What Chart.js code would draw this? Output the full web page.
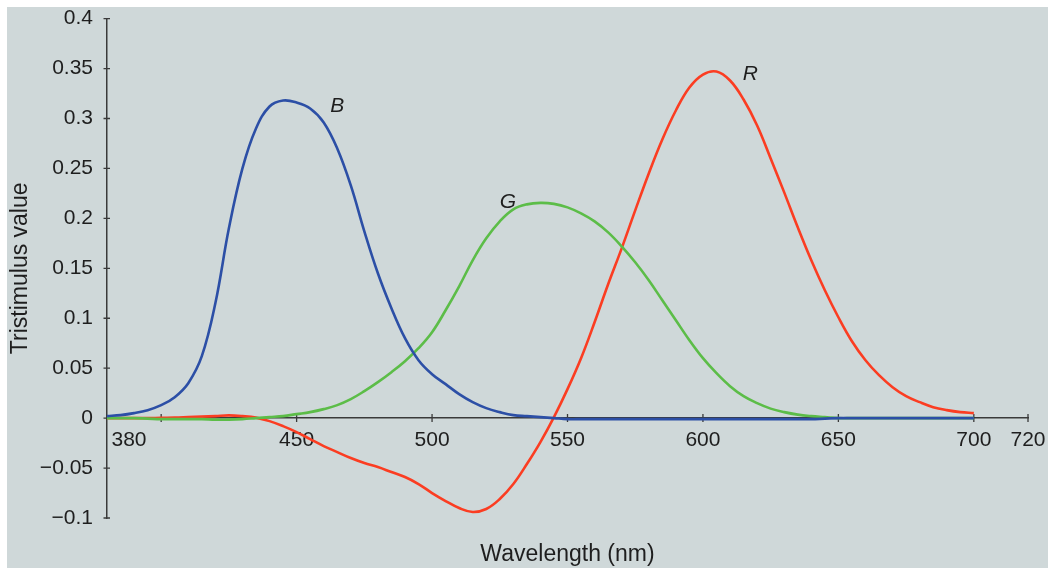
<!DOCTYPE html>
<html>
<head>
<meta charset="utf-8">
<script src="https://cdn.jsdelivr.net/npm/chart.js@4.4.1/dist/chart.umd.min.js"></script>
<style>
  html, body { margin: 0; padding: 0; background: #ffffff; }
  #wrap { width: 1048px; height: 568px; position: relative; }
</style>
</head>
<body>
<div id="wrap"><canvas id="cmfChart"></canvas></div>
<script>
// ==========================================
// DADOS
// ==========================================

// comprimento de onda (nm), passo de 5 nm
const wavelengths = [
  380, 385, 390, 395, 400, 405, 410, 415, 420, 425, 430, 435, 440, 445, 450, 455,
  460, 465, 470, 475, 480, 485, 490, 495, 500, 505, 510, 515, 520, 525, 530, 535,
  540, 545, 550, 555, 560, 565, 570, 575, 580, 585, 590, 595, 600, 605, 610, 615,
  620, 625, 630, 635, 640, 645, 650, 655, 660, 665, 670, 675, 680, 685, 690, 695, 700
];

const blueValues = [
  0.002, 0.003, 0.005, 0.008, 0.013, 0.021, 0.035, 0.062, 0.115, 0.190, 0.250, 0.290, 0.312, 0.318, 0.316, 0.310,
  0.296, 0.270, 0.233, 0.187, 0.145, 0.110, 0.080, 0.058, 0.044, 0.034, 0.024, 0.016, 0.010, 0.006, 0.003, 0.002,
  0.001, 0.000, -0.001, -0.001, -0.001, -0.001, -0.001, -0.001, -0.001, -0.001, -0.001, -0.001, -0.001, -0.001, -0.001, -0.001,
  -0.001, -0.001, -0.001, -0.001, -0.001, -0.0005, 0, 0, 0, 0, 0, 0, 0, 0, 0, 0, 0
];

const greenValues = [
  0, 0, 0, -0.0005, -0.001, -0.001, -0.001, -0.001, -0.0015, -0.0015, -0.001, 0, 0.001, 0.002, 0.004, 0.006,
  0.009, 0.013, 0.019, 0.027, 0.036, 0.046, 0.057, 0.070, 0.086, 0.108, 0.132, 0.158, 0.180, 0.197, 0.209, 0.214,
  0.2155, 0.2145, 0.211, 0.205, 0.197, 0.186, 0.172, 0.156, 0.138, 0.118, 0.098, 0.078, 0.060, 0.045, 0.032, 0.022,
  0.015, 0.0095, 0.006, 0.0035, 0.002, 0.001, 0, 0, 0, 0, 0, 0, 0, 0, 0, 0, 0
];

const redValues = [
  0, 0, 0, 0, 0.0003, 0.0005, 0.001, 0.0015, 0.002, 0.0027, 0.002, 0.0005, -0.003, -0.008, -0.014, -0.021,
  -0.028, -0.034, -0.040, -0.045, -0.049, -0.054, -0.059, -0.066, -0.075, -0.083, -0.090, -0.094, -0.091, -0.081, -0.066, -0.046,
  -0.024, 0.001, 0.029, 0.060, 0.096, 0.134, 0.170, 0.208, 0.245, 0.279, 0.308, 0.331, 0.344, 0.347, 0.338, 0.319,
  0.293, 0.260, 0.226, 0.191, 0.158, 0.128, 0.101, 0.077, 0.058, 0.043, 0.031, 0.022, 0.016, 0.011, 0.008, 0.006, 0.005
];

// marcas do eixo x (o 380 é escrito ao lado do eixo y)
const xTickValues = [380, 400, 450, 500, 550, 600, 650, 700, 720];
const xTickLabels = ['', '', '450', '500', '550', '600', '650', '700', '720'];
const firstXLabel = '380';

// nomes das curvas e onde ficam (em unidades dos eixos)
const curveNames = ['B', 'G', 'R'];
const curveNameAt = [[465, 0.312], [528, 0.216], [617.5, 0.344]];

// ==========================================
// ESTILO
// ==========================================
const FONT = '"Liberation Sans", Arial, Helvetica, sans-serif';
const TEXT = '#1e1e1e';
const AXIS = '#3a3a3a';
const PANEL = '#cfd8d9';

const toPoints = vals => wavelengths.map((w, i) => ({ x: w, y: vals[i] }));

// fundo cinza do painel
const panelPlugin = {
  id: 'panel',
  beforeDraw(chart) {
    const c = chart.ctx;
    c.save();
    c.fillStyle = PANEL;
    c.fillRect(7, 7, chart.width - 7, chart.height - 7);
    c.restore();
  }
};

// tracinhos que cruzam os eixos + o rótulo 380
const axisMarksPlugin = {
  id: 'axisMarks',
  beforeDatasetsDraw(chart) {
    const c = chart.ctx;
    const xs = chart.scales.x, ys = chart.scales.y;
    const x0 = xs.getPixelForValue(380);
    const y0 = ys.getPixelForValue(0);
    c.save();
    c.strokeStyle = AXIS;
    c.lineWidth = 1.3;
    c.beginPath();
    ys.ticks.forEach(t => {
      const y = ys.getPixelForValue(t.value);
      c.moveTo(x0 - 3.5, y);
      c.lineTo(x0 + 3, y);
    });
    xTickValues.slice(1).forEach(v => {
      const x = xs.getPixelForValue(v);
      c.moveTo(x, y0 - 4);
      c.lineTo(x, y0 + 4);
    });
    c.stroke();
    c.fillStyle = TEXT;
    c.font = '21px ' + FONT;
    c.textAlign = 'center';
    c.textBaseline = 'middle';
    c.fillText(firstXLabel, x0 + 22, y0 + 22);
    c.restore();
  }
};

// letras B, G, R
const curveNamePlugin = {
  id: 'curveNames',
  afterDatasetsDraw(chart) {
    const c = chart.ctx;
    const xs = chart.scales.x, ys = chart.scales.y;
    c.save();
    c.fillStyle = TEXT;
    c.font = 'italic 21px ' + FONT;
    c.textAlign = 'center';
    c.textBaseline = 'middle';
    curveNames.forEach((name, i) => {
      c.fillText(name, xs.getPixelForValue(curveNameAt[i][0]), ys.getPixelForValue(curveNameAt[i][1]));
    });
    c.restore();
  }
};

function lineSet(label, vals, color, order) {
  return {
    label: label,
    data: toPoints(vals),
    borderColor: color,
    borderWidth: 2.6,
    pointRadius: 0,
    fill: false,
    tension: 0.4,
    order: order
  };
}

document.addEventListener('DOMContentLoaded', () => {
  const ctx = document.getElementById('cmfChart').getContext('2d');
  new Chart(ctx, {
    type: 'line',
    data: {
      datasets: [
        lineSet('R', redValues, '#fb3d22', 2),
        lineSet('G', greenValues, '#5cbd48', 1),
        lineSet('B', blueValues, '#2c4fa6', 0)
      ]
    },
    options: {
      responsive: true,
      maintainAspectRatio: false,
      animation: false,
      layout: { padding: { left: 7, top: 12, right: 20, bottom: 50 } },
      plugins: { legend: { display: false }, tooltip: { enabled: false } },
      scales: {
        x: {
          type: 'linear',
          position: { y: 0 },
          min: 380,
          max: 720,
          grid: { display: false },
          border: { display: true, color: AXIS, width: 1.5 },
          afterBuildTicks: scale => { scale.ticks = xTickValues.map(v => ({ value: v })); },
          ticks: {
            autoSkip: false,
            maxRotation: 0,
            padding: 1,
            color: TEXT,
            font: { family: FONT, size: 21 },
            callback: (value, index) => xTickLabels[index]
          },
          title: {
            display: true,
            text: 'Wavelength (nm)',
            color: TEXT,
            font: { family: FONT, size: 23 },
            padding: { top: 88, bottom: 0 }
          }
        },
        y: {
          min: -0.1,
          max: 0.4,
          grid: { display: false },
          border: { display: true, color: AXIS, width: 1.5 },
          afterFit: scale => { scale.width = 100; },
          ticks: {
            stepSize: 0.05,
            padding: 6,
            color: TEXT,
            font: { family: FONT, size: 21 },
            callback: value => {
              const v = Math.round(value * 100) / 100;
              return v < 0 ? '\u2212' + Math.abs(v) : String(v);
            }
          },
          title: {
            display: true,
            text: 'Tristimulus value',
            color: TEXT,
            font: { family: FONT, size: 23 },
            padding: 0
          }
        }
      }
    },
    plugins: [panelPlugin, axisMarksPlugin, curveNamePlugin]
  });
});
</script>
</body>
</html>
